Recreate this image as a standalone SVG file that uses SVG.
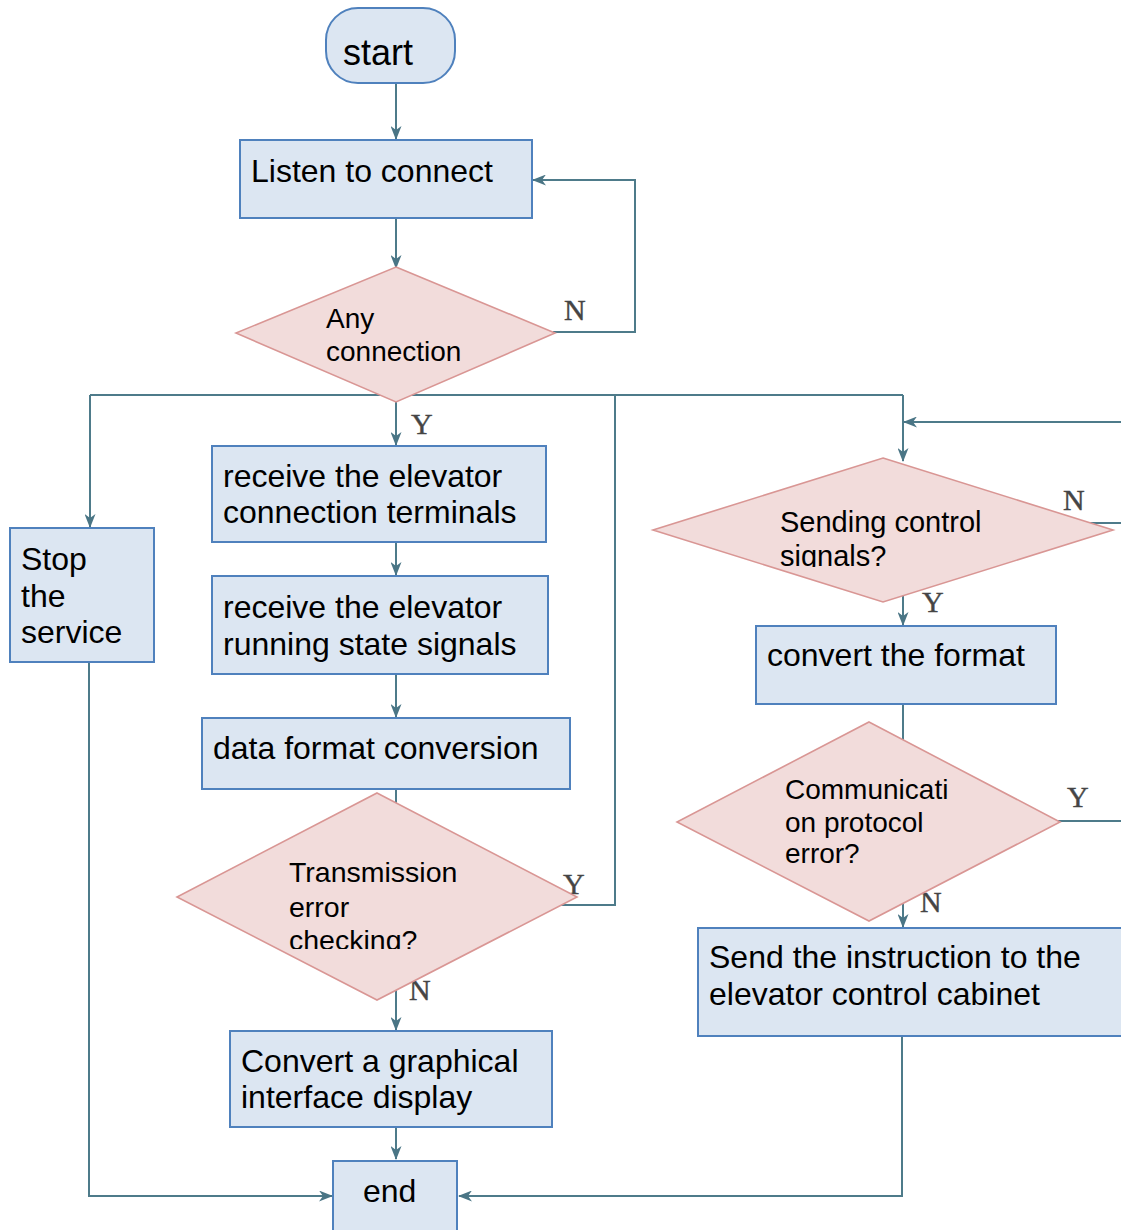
<svg xmlns="http://www.w3.org/2000/svg" width="1121" height="1230" viewBox="0 0 1121 1230">
<style>
.box{fill:#dce6f2;stroke:#4f81bd;stroke-width:2}
.dia{fill:#f2dcdb;stroke:#d99694;stroke-width:1.6}
.t{font-family:"Liberation Sans",Arial,sans-serif;font-size:32px;fill:#000}
.td{font-family:"Liberation Sans",Arial,sans-serif;font-size:28px;fill:#000}
.lbl{font-family:"Liberation Serif","Times New Roman",serif;font-size:30px;fill:#454545;stroke:#454545;stroke-width:0.4}
.c{fill:none;stroke:#4e7b8a;stroke-width:2}
</style>
<defs>
<marker id="ah" viewBox="0 0 14 11" refX="13" refY="5.5" markerWidth="14" markerHeight="11" markerUnits="userSpaceOnUse" orient="auto">
<path d="M0,0 L14,5.5 L0,11 L4,5.5 z" fill="#4a7585"/>
</marker>
<clipPath id="clipT"><rect x="280" y="850" width="200" height="99"/></clipPath>
<clipPath id="clipS"><rect x="770" y="500" width="240" height="67"/></clipPath>
</defs>
<rect width="1121" height="1230" fill="#fff"/>
<g id="connectors">
<path class="c" d="M396,83 V139" marker-end="url(#ah)"/>
<path class="c" d="M396,218 V268" marker-end="url(#ah)"/>
<path class="c" d="M553,332 H635 V180 H533" marker-end="url(#ah)"/>
<path class="c" d="M90,395 H903"/>
<path class="c" d="M90,395 V527" marker-end="url(#ah)"/>
<path class="c" d="M396,400 V445" marker-end="url(#ah)"/>
<path class="c" d="M396,542 V575" marker-end="url(#ah)"/>
<path class="c" d="M396,674 V717" marker-end="url(#ah)"/>
<path class="c" d="M396,789 V1030" marker-end="url(#ah)"/>
<path class="c" d="M560,905 H615 V395"/>
<path class="c" d="M396,1127 V1159" marker-end="url(#ah)"/>
<path class="c" d="M89,662 V1196 H332" marker-end="url(#ah)"/>
<path class="c" d="M903,395 V461" marker-end="url(#ah)"/>
<path class="c" d="M1121,422 H904" marker-end="url(#ah)"/>
<path class="c" d="M1090,523 H1121"/>
<path class="c" d="M903,595 V625" marker-end="url(#ah)"/>
<path class="c" d="M903,704 V927" marker-end="url(#ah)"/>
<path class="c" d="M1058,821 H1121"/>
<path class="c" d="M902,1036 V1196 H459" marker-end="url(#ah)"/>
</g>
<g id="labels">
<text class="lbl" x="564" y="320">N</text>
<text class="lbl" x="411" y="434">Y</text>
<text class="lbl" x="563" y="894">Y</text>
<text class="lbl" x="409" y="1000">N</text>
<text class="lbl" x="1063" y="510">N</text>
<text class="lbl" x="922" y="612">Y</text>
<text class="lbl" x="1067" y="807">Y</text>
<text class="lbl" x="920" y="912">N</text>
</g>
<g id="start">
<rect class="box" x="326" y="8" width="129" height="75" rx="32" ry="32"/>
<text class="t" x="343" y="65" style="font-size:36px">start</text>
</g>
<g id="listen">
<rect class="box" x="240" y="140" width="292" height="78"/>
<text class="t" x="251" y="182">Listen to connect</text>
</g>
<g id="any-connection">
<polygon class="dia" points="396,267 555,333 396,402 236,333"/>
<text class="td" x="326" y="328">Any</text>
<text class="td" x="326" y="361">connection</text>
</g>
<g id="receive-terminals">
<rect class="box" x="212" y="446" width="334" height="96"/>
<text class="t" x="223" y="487">receive the elevator</text>
<text class="t" x="223" y="523">connection terminals</text>
</g>
<g id="receive-signals">
<rect class="box" x="212" y="576" width="336" height="98"/>
<text class="t" x="223" y="618">receive the elevator</text>
<text class="t" x="223" y="655">running state signals</text>
</g>
<g id="data-format">
<rect class="box" x="202" y="718" width="368" height="71"/>
<text class="t" x="213" y="759">data format conversion</text>
</g>
<g id="transmission">
<polygon class="dia" points="377,793 577,897 377,1000 177,897"/>
<text class="td" x="289" y="882" style="font-size:28.5px">Transmission</text>
<text class="td" x="289" y="917" style="font-size:28.5px">error</text>
<text class="td" x="289" y="950" style="font-size:28.5px" clip-path="url(#clipT)">checking?</text>
</g>
<g id="convert-graphical">
<rect class="box" x="230" y="1031" width="322" height="96"/>
<text class="t" x="241" y="1072">Convert a graphical</text>
<text class="t" x="241" y="1108">interface display</text>
</g>
<g id="end">
<rect class="box" x="333" y="1161" width="124" height="80"/>
<text class="t" x="363" y="1202">end</text>
</g>
<g id="stop">
<rect class="box" x="10" y="528" width="144" height="134"/>
<text class="t" x="21" y="570">Stop</text>
<text class="t" x="21" y="607">the</text>
<text class="t" x="21" y="643">service</text>
</g>
<g id="sending">
<polygon class="dia" points="883,458 1113,530 883,602 653,530"/>
<text class="td" x="780" y="532" style="font-size:29px">Sending control</text>
<text class="td" x="780" y="566" style="font-size:29px" clip-path="url(#clipS)">signals?</text>
</g>
<g id="convert-format">
<rect class="box" x="756" y="626" width="300" height="78"/>
<text class="t" x="767" y="666">convert the format</text>
</g>
<g id="protocol-error">
<polygon class="dia" points="869,722 1060,822 869,921 677,822"/>
<text class="td" x="785" y="799">Communicati</text>
<text class="td" x="785" y="832">on protocol</text>
<text class="td" x="785" y="863">error?</text>
</g>
<g id="send-instruction">
<rect class="box" x="698" y="928" width="430" height="108"/>
<text class="t" x="709" y="968">Send the instruction to the</text>
<text class="t" x="709" y="1005">elevator control cabinet</text>
</g>
</svg>
